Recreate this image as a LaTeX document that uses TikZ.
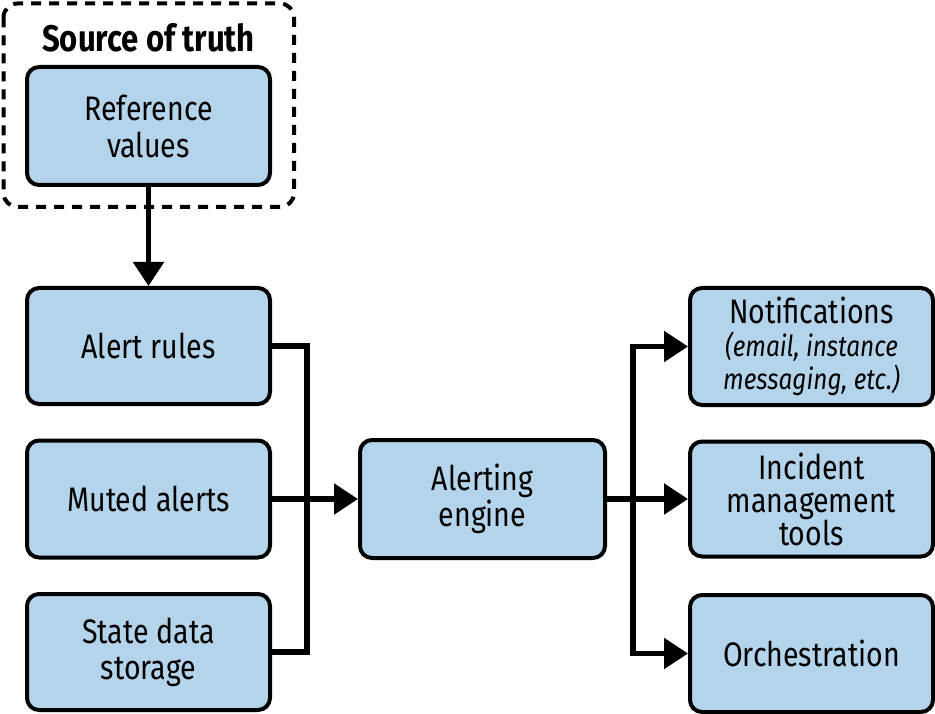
\documentclass[tikz,border=0pt]{standalone}
\usepackage{fontspec}
\setmainfont[FakeStretch=0.84]{Fira Sans}
\usetikzlibrary{arrows.meta,calc}
\definecolor{boxblue}{HTML}{B3D4EA}
\tikzset{
  box/.style={draw=black, fill=boxblue, line width=4pt, rounded corners=12pt,
    minimum width=243pt, minimum height=117pt, align=center, inner sep=0pt,
    font=\fontsize{34}{36}\selectfont},
  conn/.style={line width=5.5pt},
  arr/.style={line width=5.5pt, -{Triangle[length=24pt,width=30pt]}},
  darr/.style={line width=5.5pt, {Triangle[length=24pt,width=30pt]}-{Triangle[length=24pt,width=30pt]}},
  frame/.style={draw=black, line width=4pt, dash pattern=on 10pt off 8pt, rounded corners=14pt},
}
\begin{document}
\begin{tikzpicture}[x=1pt,y=-1pt]
\useasboundingbox (0,0) rectangle (935,714);
\draw[frame] (3.5,3.5) rectangle (294,207);
\node[font=\bfseries\fontsize{37}{40}\selectfont] (title) at (148.5,38) {Source of truth};
\node[box, minimum height=118pt, font=\fontsize{34}{37}\selectfont] (ref) at (148.5,126) {Reference\\values};
\node[box, minimum height=116pt] (alert) at (148.5,346) {Alert rules};
\node[box] (muted) at (148.5,499) {Muted alerts};
\node[box, minimum height=116pt] (state) at (148.5,652) {State data\\storage};
\node[box, minimum width=245pt, minimum height=118pt] (engine) at (482.5,499) {Alerting\\engine};
\node[box, font=\fontsize{34}{33}\selectfont] (notif) at (811.5,346.5) {Notifications\\{\itshape\fontsize{29}{33}\selectfont (email, instance}\\{\itshape\fontsize{29}{33}\selectfont messaging, etc.)}};
\node[box, minimum height=115pt, font=\fontsize{34}{33}\selectfont] (incident) at (811.5,499) {Incident\\management\\tools};
\node[box] (orch) at (811.5,653.5) {Orchestration};
\coordinate (lb) at (307,499);
\coordinate (rb) at (633,499);
\draw[arr] (ref.south) -- (alert.north);
\draw[conn] (alert.east) -- (lb |- alert.east) -- (lb |- state.east) -- (state.east);
\draw[arr] (muted.east) -- (engine.west);
\draw[darr] (notif.west) -- (rb |- notif.west) -- (rb |- orch.west) -- (orch.west);
\draw[arr] (engine.east) -- (incident.west);
\end{tikzpicture}
\end{document}
